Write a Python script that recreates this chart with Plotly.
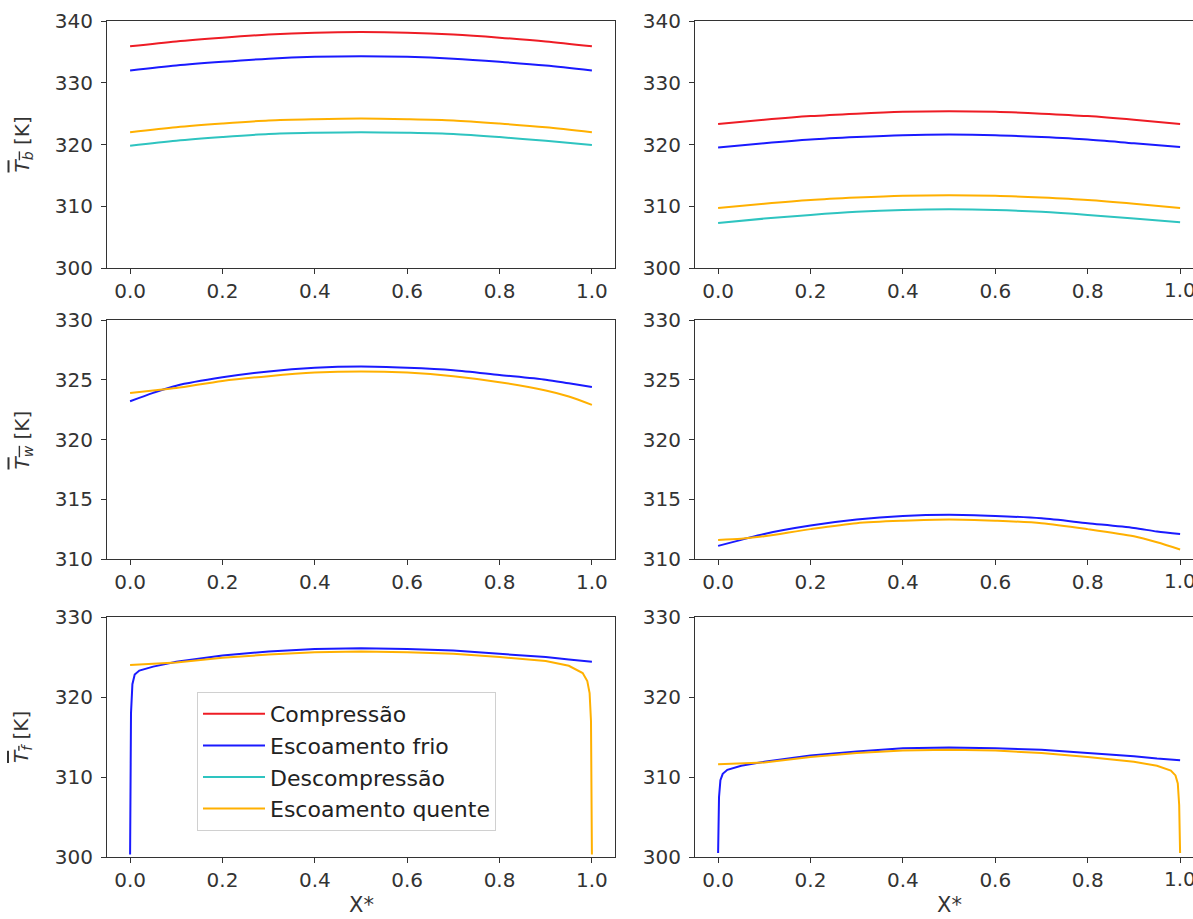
import plotly.graph_objects as go
from plotly.subplots import make_subplots

# ---------------- data ----------------
series_names = ["Compressão", "Escoamento frio", "Descompressão", "Escoamento quente"]
series_colors = ["#ee1c25", "#1a1aff", "#2ec4c0", "#ffb000"]
x_ticks = [0.0, 0.2, 0.4, 0.6, 0.8, 1.0]
x_ticklabels = ["0.0", "0.2", "0.4", "0.6", "0.8", "1.0"]

x_b = [0.0, 0.1, 0.2, 0.3, 0.4, 0.5, 0.6, 0.7, 0.8, 0.9, 1.0]
# Tb, left column
tb_left_comp = [335.9, 336.7, 337.3, 337.8, 338.1, 338.2, 338.1, 337.8, 337.3, 336.7, 335.9]
tb_left_frio = [332.0, 332.8, 333.4, 333.9, 334.2, 334.3, 334.2, 333.9, 333.4, 332.8, 332.0]
tb_left_desc = [319.8, 320.6, 321.2, 321.7, 321.9, 322.0, 321.9, 321.7, 321.2, 320.6, 319.9]
tb_left_quen = [322.0, 322.8, 323.4, 323.9, 324.1, 324.2, 324.1, 323.9, 323.4, 322.8, 322.0]
# Tb, right column
tb_right_comp = [323.3, 324.0, 324.6, 325.0, 325.3, 325.4, 325.3, 325.0, 324.6, 324.0, 323.3]
tb_right_frio = [319.5, 320.2, 320.8, 321.2, 321.5, 321.6, 321.5, 321.2, 320.8, 320.2, 319.6]
tb_right_desc = [307.3, 308.0, 308.6, 309.1, 309.4, 309.5, 309.4, 309.1, 308.6, 308.0, 307.4]
tb_right_quen = [309.7, 310.4, 311.0, 311.4, 311.7, 311.8, 311.7, 311.4, 311.0, 310.4, 309.7]

x_w = [0.0, 0.05, 0.1, 0.2, 0.3, 0.4, 0.5, 0.6, 0.7, 0.8, 0.9, 0.95, 1.0]
tw_left_frio = [323.2, 323.9, 324.5, 325.2, 325.7, 326.0, 326.1, 326.0, 325.8, 325.4, 325.0, 324.7, 324.4]
tw_left_quen = [323.9, 324.1, 324.3, 324.9, 325.3, 325.6, 325.7, 325.6, 325.3, 324.8, 324.1, 323.6, 322.9]
tw_right_frio = [311.1, 311.6, 312.1, 312.8, 313.3, 313.6, 313.7, 313.6, 313.4, 313.0, 312.6, 312.3, 312.1]
tw_right_quen = [311.6, 311.7, 311.9, 312.5, 313.0, 313.2, 313.3, 313.2, 313.0, 312.5, 311.9, 311.4, 310.8]

x_f_frio = [0.0, 0.002, 0.005, 0.01, 0.02, 0.05, 0.1, 0.15, 0.2, 0.3, 0.4, 0.5, 0.6, 0.7, 0.8, 0.85, 0.9, 0.95, 1.0]
tf_left_frio = [300.3, 318.0, 321.6, 322.8, 323.3, 323.8, 324.4, 324.8, 325.2, 325.7, 326.0, 326.1, 326.0, 325.8, 325.4, 325.2, 325.0, 324.7, 324.4]
tf_right_frio = [300.5, 307.5, 309.6, 310.4, 310.9, 311.4, 311.9, 312.3, 312.7, 313.2, 313.6, 313.7, 313.6, 313.4, 313.0, 312.8, 312.6, 312.3, 312.1]

x_f_quen = [0.0, 0.1, 0.2, 0.3, 0.4, 0.5, 0.6, 0.7, 0.8, 0.9, 0.95, 0.98, 0.99, 0.995, 0.998, 1.0]
tf_left_quen = [324.0, 324.3, 324.9, 325.3, 325.6, 325.7, 325.6, 325.4, 325.0, 324.5, 323.9, 323.0, 322.0, 320.5, 317.0, 300.3]
tf_right_quen = [311.6, 311.8, 312.5, 313.0, 313.3, 313.4, 313.3, 313.0, 312.5, 311.9, 311.4, 310.8, 310.2, 309.2, 306.5, 300.5]

# ---------------- figure ----------------
fig = make_subplots(rows=3, cols=2)

def add(x, y, idx, row, col, legend=False, shape="spline"):
    fig.add_trace(go.Scatter(
        x=x, y=y, mode="lines", name=series_names[idx],
        line=dict(color=series_colors[idx], width=2, shape=shape, smoothing=0.8 if shape == "spline" else None),
        legendgroup=series_names[idx], showlegend=legend), row=row, col=col)

add(x_b, tb_left_comp, 0, 1, 1, True)
add(x_b, tb_left_frio, 1, 1, 1, True)
add(x_b, tb_left_desc, 2, 1, 1, True)
add(x_b, tb_left_quen, 3, 1, 1, True)
add(x_b, tb_right_comp, 0, 1, 2)
add(x_b, tb_right_frio, 1, 1, 2)
add(x_b, tb_right_desc, 2, 1, 2)
add(x_b, tb_right_quen, 3, 1, 2)

add(x_w, tw_left_frio, 1, 2, 1)
add(x_w, tw_left_quen, 3, 2, 1)
add(x_w, tw_right_frio, 1, 2, 2)
add(x_w, tw_right_quen, 3, 2, 2)

add(x_f_frio, tf_left_frio, 1, 3, 1, shape="linear")
add(x_f_quen, tf_left_quen, 3, 3, 1, shape="linear")
add(x_f_frio, tf_right_frio, 1, 3, 2, shape="linear")
add(x_f_quen, tf_right_quen, 3, 3, 2, shape="linear")

W, H = 1193, 919
rows_px = [(21, 268), (320, 559), (617, 857)]
cols_px = [(107, 615), (695, W)]
yranges = [(300, 340, 10), (310, 330, 5), (300, 330, 10)]
ytitles = ["T<sub>b</sub>", "T<sub>w</sub>", "T<sub>f</sub>"]

tickfont = dict(family="DejaVu Sans", size=20, color="#333")
annotations = []
axn = 0
for r in range(3):
    for c in range(2):
        axn += 1
        xs = "xaxis" if axn == 1 else f"xaxis{axn}"
        ys = "yaxis" if axn == 1 else f"yaxis{axn}"
        x0, x1 = cols_px[c]
        y0, y1 = rows_px[r]
        if c == 0:
            xr = [-0.05, 1.05]
            tt = x_ticklabels
        else:
            xr = [-0.05, -0.05 + (W - x0) / 462.0]
            tt = x_ticklabels[:-1] + [""]
            # the last label is clipped by the figure edge in the reference
            annotations.append(dict(
                x=x_ticks[-1], y=1 - (y1 + 22) / H, xref=f"x{axn}", yref="paper",
                text=x_ticklabels[-1], showarrow=False, xanchor="center", yanchor="middle",
                font=tickfont))
        fig.layout[xs].update(
            domain=[x0 / W, x1 / W], range=xr, tickvals=x_ticks, ticktext=tt,
            showgrid=False, zeroline=False, showline=True, linecolor="#333", linewidth=1.2,
            mirror=True, ticks="outside", ticklen=5, tickcolor="#333", tickfont=tickfont,
            automargin=False)
        lo, hi, dt = yranges[r]
        fig.layout[ys].update(
            domain=[1 - y1 / H, 1 - y0 / H], range=[lo, hi], dtick=dt, tick0=lo,
            showgrid=False, zeroline=False, showline=True, linecolor="#333", linewidth=1.2,
            mirror=(c == 0), ticks="outside", ticklen=5, tickcolor="#333", tickfont=tickfont,
            automargin=False, ticklabelstandoff=4)

for r in range(3):
    y0, y1 = rows_px[r]
    annotations.append(dict(
        x=22 / W, y=1 - (y0 + y1) / 2 / H, xref="paper", yref="paper",
        text="<span style='text-decoration:overline'><i>" + ytitles[r] + "</i></span> [K]",
        textangle=-90, showarrow=False, xanchor="center", yanchor="middle",
        font=dict(family="DejaVu Sans", size=20, color="#333")))
for c in range(2):
    annotations.append(dict(
        x=(130 + 592) / 2 / W if c == 0 else (718 + 1180) / 2 / W, y=1 - 905 / H,
        xref="paper", yref="paper", text="X*", showarrow=False,
        xanchor="center", yanchor="middle",
        font=dict(family="DejaVu Sans", size=21, color="#333")))

fig.update_layout(
    width=W, height=H, margin=dict(l=0, r=0, t=0, b=0, pad=0, autoexpand=False),
    plot_bgcolor="white", paper_bgcolor="white",
    annotations=annotations,
    legend=dict(x=197 / W, y=1 - 692 / H, xanchor="left", yanchor="top",
                bgcolor="rgba(255,255,255,0.9)", bordercolor="#d0d0d0", borderwidth=1,
                font=dict(family="DejaVu Sans", size=22, color="#222"),
                itemwidth=62, tracegroupgap=0),
)

fig.write_html("out.html", config={"displayModeBar": False},
               post_script="document.body.style.margin='0';document.body.style.overflow='hidden';")
